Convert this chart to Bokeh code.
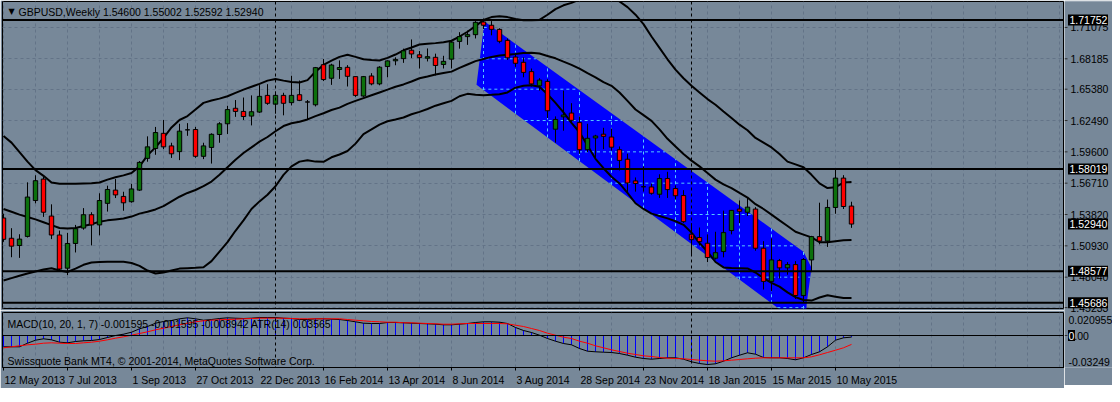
from bokeh.plotting import figure
from bokeh.models import Range1d, FixedTicker, Span, Label
from bokeh.layouts import column, row
from bokeh.core.properties import value
from bokeh.embed import file_html
from bokeh.resources import INLINE

# ---------------- data (weekly GBPUSD, week index 0 = 12 May 2013) ----------------
weeks = list(range(107))

opens = [1.5350, 1.5163, 1.5096, 1.5180, 1.5511, 1.5709, 1.5368, 1.5193, 1.4887, 1.5115,
         1.5257, 1.5380, 1.5286, 1.5485, 1.5607, 1.5549, 1.5500, 1.5607, 1.5900, 1.5991,
         1.6131, 1.6015, 1.5962, 1.6163, 1.6166, 1.5919, 1.6001, 1.6120, 1.6219, 1.6362,
         1.6333, 1.6290, 1.6327, 1.6481, 1.6400, 1.6481, 1.6414, 1.6487, 1.6420, 1.6394,
         1.6764, 1.6639, 1.6720, 1.6740, 1.6654, 1.6475, 1.6660, 1.6587, 1.6747, 1.6800,
         1.6820, 1.6898, 1.6855, 1.6824, 1.6832, 1.6766, 1.6815, 1.6979, 1.7023, 1.7041,
         1.7158, 1.7128, 1.7090, 1.6988, 1.6835, 1.6786, 1.6700, 1.6569, 1.6610, 1.6169,
         1.6283, 1.6318, 1.6230, 1.5980, 1.6088, 1.6123, 1.6097, 1.5980, 1.5892, 1.5692,
         1.5638, 1.5636, 1.5569, 1.5714, 1.5622, 1.5557, 1.5200, 1.5170, 1.5117, 1.4979,
         1.5040, 1.5234, 1.5432, 1.5403, 1.5432, 1.5071, 1.4765, 1.4957, 1.4890, 1.4920,
         1.4634, 1.4963, 1.5178, 1.5137, 1.5447, 1.5718, 1.5460]
highs = [1.5390, 1.5256, 1.5200, 1.5679, 1.5744, 1.5730, 1.5476, 1.5234, 1.5213, 1.5286,
         1.5441, 1.5403, 1.5578, 1.5648, 1.5709, 1.5592, 1.5665, 1.5875, 1.6103, 1.6190,
         1.6254, 1.6044, 1.6219, 1.6225, 1.6190, 1.6044, 1.6131, 1.6234, 1.6385, 1.6438,
         1.6461, 1.6481, 1.6575, 1.6584, 1.6516, 1.6505, 1.6662, 1.6618, 1.6438, 1.6743,
         1.6816, 1.6773, 1.6804, 1.6760, 1.6657, 1.6660, 1.6686, 1.6750, 1.6803, 1.6832,
         1.6912, 1.6997, 1.6890, 1.6914, 1.6866, 1.6846, 1.6982, 1.7064, 1.7078, 1.7166,
         1.7190, 1.7166, 1.7100, 1.7006, 1.6875, 1.6831, 1.6729, 1.6640, 1.6630, 1.6287,
         1.6525, 1.6409, 1.6287, 1.6219, 1.6117, 1.6182, 1.6176, 1.6010, 1.5943, 1.5724,
         1.5826, 1.5667, 1.5753, 1.5776, 1.5651, 1.5607, 1.5302, 1.5262, 1.5199, 1.5223,
         1.5418, 1.5424, 1.5512, 1.5540, 1.5450, 1.5136, 1.5162, 1.4972, 1.4943, 1.4952,
         1.4981, 1.5185, 1.5491, 1.5520, 1.5802, 1.5745, 1.5500]
lows = [1.5130, 1.4988, 1.4982, 1.5170, 1.5485, 1.5360, 1.5155, 1.4870, 1.4823, 1.5032,
        1.5242, 1.5097, 1.5190, 1.5409, 1.5534, 1.5417, 1.5491, 1.5600, 1.5869, 1.5933,
        1.5985, 1.5904, 1.5884, 1.6108, 1.5905, 1.5893, 1.5852, 1.6044, 1.6125, 1.6283,
        1.6254, 1.6204, 1.6320, 1.6394, 1.6312, 1.6297, 1.6388, 1.6428, 1.6263, 1.6379,
        1.6613, 1.6578, 1.6633, 1.6563, 1.6467, 1.6467, 1.6574, 1.6574, 1.6648, 1.6759,
        1.6781, 1.6825, 1.6729, 1.6794, 1.6665, 1.6729, 1.6729, 1.6912, 1.6947, 1.7006,
        1.7093, 1.7035, 1.6962, 1.6808, 1.6744, 1.6648, 1.6563, 1.6525, 1.6272, 1.6045,
        1.6155, 1.6225, 1.5942, 1.5957, 1.5898, 1.5985, 1.5972, 1.5788, 1.5584, 1.5593,
        1.5593, 1.5565, 1.5535, 1.5535, 1.5520, 1.5305, 1.5011, 1.5097, 1.4943, 1.4967,
        1.4987, 1.5199, 1.5302, 1.5369, 1.5048, 1.4690, 1.4675, 1.4792, 1.4827, 1.4603,
        1.4568, 1.4850, 1.5107, 1.5083, 1.5389, 1.5433, 1.5259]
closes = [1.5153, 1.5090, 1.5155, 1.5543, 1.5694, 1.5403, 1.5193, 1.4879, 1.5115, 1.5251,
          1.5380, 1.5286, 1.5511, 1.5613, 1.5563, 1.5490, 1.5618, 1.5863, 1.6006, 1.6138,
          1.6006, 1.5942, 1.6151, 1.6163, 1.5919, 1.6015, 1.6122, 1.6219, 1.6350, 1.6333,
          1.6286, 1.6330, 1.6472, 1.6408, 1.6481, 1.6408, 1.6481, 1.6435, 1.6420, 1.6737,
          1.6627, 1.6761, 1.6738, 1.6657, 1.6481, 1.6654, 1.6587, 1.6741, 1.6799, 1.6813,
          1.6892, 1.6863, 1.6829, 1.6838, 1.6757, 1.6795, 1.6972, 1.7023, 1.7041, 1.7155,
          1.7128, 1.7090, 1.6980, 1.6827, 1.6777, 1.6693, 1.6587, 1.6622, 1.6339, 1.6259,
          1.6300, 1.6251, 1.5980, 1.6085, 1.6106, 1.6103, 1.6003, 1.5881, 1.5673, 1.5668,
          1.5638, 1.5578, 1.5714, 1.5612, 1.5555, 1.5316, 1.5150, 1.5132, 1.4985, 1.5030,
          1.5215, 1.5420, 1.5412, 1.5450, 1.5071, 1.4765, 1.4963, 1.4890, 1.4920, 1.4635,
          1.4967, 1.5178, 1.5137, 1.5447, 1.5718, 1.5456, 1.5294]

bb_up = [1.6106, 1.6045, 1.5957, 1.5870, 1.5791, 1.5739, 1.5677, 1.5666, 1.5666, 1.5666,
         1.5669, 1.5671, 1.5677, 1.5704, 1.5726, 1.5743, 1.5765, 1.5826, 1.5928, 1.6001,
         1.6088, 1.6185, 1.6254, 1.6290, 1.6351, 1.6412, 1.6434, 1.6451, 1.6473, 1.6504,
         1.6534, 1.6561, 1.6587, 1.6617, 1.6633, 1.6617, 1.6604, 1.6600, 1.6622, 1.6700,
         1.6762, 1.6801, 1.6836, 1.6855, 1.6836, 1.6814, 1.6807, 1.6803, 1.6827, 1.6858,
         1.6897, 1.6923, 1.6950, 1.6958, 1.6963, 1.6971, 1.6985, 1.7024, 1.7068, 1.7120,
         1.7177, 1.7203, 1.7210, 1.7203, 1.7186, 1.7175, 1.7175, 1.7177, 1.7225, 1.7277,
         1.7312, 1.7334, 1.7365, 1.7400, 1.7426, 1.7426, 1.7400, 1.7347, 1.7295, 1.7225,
         1.7138, 1.7024, 1.6919, 1.6814, 1.6718, 1.6639, 1.6569, 1.6508, 1.6447, 1.6395,
         1.6333, 1.6272, 1.6211, 1.6159, 1.6088, 1.6045, 1.6001, 1.5940, 1.5870, 1.5844,
         1.5818, 1.5748, 1.5669, 1.5626, 1.5634, 1.5677, 1.5681]
bb_mid = [1.5433, 1.5407, 1.5381, 1.5359, 1.5337, 1.5311, 1.5284, 1.5258, 1.5252, 1.5258,
          1.5276, 1.5293, 1.5315, 1.5328, 1.5337, 1.5346, 1.5363, 1.5390, 1.5407, 1.5429,
          1.5459, 1.5503, 1.5546, 1.5581, 1.5608, 1.5643, 1.5686, 1.5748, 1.5818, 1.5887,
          1.5949, 1.6001, 1.6054, 1.6097, 1.6150, 1.6198, 1.6224, 1.6237, 1.6259, 1.6290,
          1.6316, 1.6346, 1.6368, 1.6403, 1.6430, 1.6456, 1.6482, 1.6508, 1.6534, 1.6561,
          1.6582, 1.6609, 1.6639, 1.6656, 1.6674, 1.6687, 1.6700, 1.6735, 1.6766, 1.6797,
          1.6817, 1.6836, 1.6849, 1.6855, 1.6862, 1.6871, 1.6875, 1.6867, 1.6845, 1.6823,
          1.6792, 1.6762, 1.6727, 1.6686, 1.6648, 1.6604, 1.6569, 1.6508, 1.6430, 1.6351,
          1.6299, 1.6246, 1.6167, 1.6080, 1.6010, 1.5940, 1.5879, 1.5826, 1.5765, 1.5704,
          1.5660, 1.5626, 1.5581, 1.5538, 1.5477, 1.5433, 1.5381, 1.5328, 1.5276, 1.5223,
          1.5197, 1.5171, 1.5127, 1.5127, 1.5136, 1.5145, 1.5148]
bb_low = [1.4773, 1.4795, 1.4817, 1.4838, 1.4856, 1.4874, 1.4887, 1.4865, 1.4852, 1.4883,
          1.4918, 1.4939, 1.4944, 1.4946, 1.4946, 1.4946, 1.4935, 1.4908, 1.4865, 1.4838,
          1.4847, 1.4865, 1.4883, 1.4887, 1.4891, 1.4896, 1.4952, 1.5040, 1.5127, 1.5232,
          1.5328, 1.5433, 1.5503, 1.5564, 1.5643, 1.5748, 1.5826, 1.5870, 1.5883, 1.5870,
          1.5868, 1.5910, 1.5936, 1.5968, 1.6036, 1.6124, 1.6167, 1.6211, 1.6242, 1.6259,
          1.6277, 1.6307, 1.6329, 1.6355, 1.6386, 1.6408, 1.6430, 1.6473, 1.6495, 1.6486,
          1.6482, 1.6486, 1.6492, 1.6508, 1.6552, 1.6569, 1.6575, 1.6561, 1.6491, 1.6412,
          1.6325, 1.6228, 1.6141, 1.6019, 1.5896, 1.5809, 1.5730, 1.5669, 1.5581, 1.5486,
          1.5433, 1.5390, 1.5368, 1.5346, 1.5320, 1.5287, 1.5215, 1.5119, 1.5040, 1.4944,
          1.4894, 1.4889, 1.4887, 1.4885, 1.4847, 1.4795, 1.4752, 1.4717, 1.4664, 1.4620,
          1.4594, 1.4588, 1.4616, 1.4637, 1.4624, 1.4611, 1.4611]

macd = [-0.0113, -0.0113, -0.0113, -0.0077, -0.0047, -0.0033, -0.0043, -0.0067, -0.0073, -0.0060,
        -0.0053, -0.0050, -0.0040, -0.0020, 0.0000, 0.0013, 0.0033, 0.0067, 0.0090, 0.0123,
        0.0140, 0.0150, 0.0167, 0.0177, 0.0167, 0.0153, 0.0160, 0.0170, 0.0177, 0.0173,
        0.0170, 0.0173, 0.0180, 0.0180, 0.0180, 0.0173, 0.0170, 0.0160, 0.0160, 0.0167,
        0.0167, 0.0163, 0.0160, 0.0150, 0.0137, 0.0123, 0.0120, 0.0120, 0.0130, 0.0130,
        0.0127, 0.0123, 0.0120, 0.0117, 0.0113, 0.0107, 0.0107, 0.0113, 0.0120, 0.0130,
        0.0137, 0.0137, 0.0133, 0.0120, 0.0080, 0.0050, 0.0030, 0.0003, -0.0030, -0.0057,
        -0.0080, -0.0093, -0.0130, -0.0157, -0.0163, -0.0167, -0.0170, -0.0180, -0.0197, -0.0217,
        -0.0230, -0.0237, -0.0230, -0.0223, -0.0223, -0.0237, -0.0263, -0.0280, -0.0290, -0.0283,
        -0.0257, -0.0223, -0.0197, -0.0173, -0.0187, -0.0220, -0.0223, -0.0223, -0.0230, -0.0243,
        -0.0223, -0.0190, -0.0163, -0.0113, -0.0047, -0.0023, -0.0016]
signal = [-0.0123, -0.0113, -0.0103, -0.0093, -0.0087, -0.0077, -0.0073, -0.0077, -0.0080, -0.0080,
          -0.0073, -0.0067, -0.0057, -0.0043, -0.0027, -0.0013, 0.0003, 0.0020, 0.0037, 0.0057,
          0.0073, 0.0090, 0.0107, 0.0123, 0.0137, 0.0147, 0.0153, 0.0157, 0.0160, 0.0163,
          0.0167, 0.0170, 0.0173, 0.0173, 0.0173, 0.0173, 0.0170, 0.0167, 0.0167, 0.0167,
          0.0167, 0.0167, 0.0167, 0.0160, 0.0153, 0.0147, 0.0140, 0.0137, 0.0133, 0.0133,
          0.0127, 0.0127, 0.0123, 0.0120, 0.0117, 0.0113, 0.0113, 0.0117, 0.0120, 0.0120,
          0.0120, 0.0120, 0.0120, 0.0117, 0.0103, 0.0090, 0.0070, 0.0050, 0.0023, 0.0003,
          -0.0017, -0.0030, -0.0057, -0.0077, -0.0103, -0.0123, -0.0143, -0.0160, -0.0177, -0.0190,
          -0.0203, -0.0210, -0.0220, -0.0227, -0.0230, -0.0233, -0.0240, -0.0247, -0.0253, -0.0257,
          -0.0253, -0.0247, -0.0240, -0.0233, -0.0227, -0.0223, -0.0223, -0.0223, -0.0223, -0.0223,
          -0.0223, -0.0213, -0.0193, -0.0170, -0.0147, -0.0123, -0.0089]

# standard deviation channel outline (week index, price)
chan_t = [60.125, 100.0, 101.0, 100.4, 100.25, 59.125]
chan_p = [1.7163, 1.5039, 1.4891, 1.4559, 1.4331, 1.6578]

date_labels = ["12 May 2013", "7 Jul 2013", "1 Sep 2013", "27 Oct 2013", "22 Dec 2013",
               "16 Feb 2014", "13 Apr 2014", "8 Jun 2014", "3 Aug 2014", "28 Sep 2014",
               "23 Nov 2014", "18 Jan 2015", "15 Mar 2015", "10 May 2015"]
date_weeks = [0, 8, 16, 24, 32, 40, 48, 56, 64, 72, 80, 88, 96, 104]
separator_weeks = [34, 86]

price_ticks = [1.71075, 1.68185, 1.65380, 1.62490, 1.59600, 1.56710,
               1.53820, 1.50930, 1.48040, 1.45233]
level_prices = [1.71752, 1.58019, 1.48577, 1.45686]
last_close = 1.52940
header = "GBPUSD,Weekly  1.54600 1.55002 1.52592 1.52940"
macd_text = "MACD(10, 20, 1, 7) -0.001595 -0.001595 -0.008942  ATR(14) 0.03565"
copyright_text = "Swissquote Bank MT4, \u00a9 2001-2014, MetaQuotes Software Corp."
macd_scale_vals = [0.0153, 0.0, -0.0263]
macd_scale_text = ["0.020955", "0.00", "-0.03249"]

# ---------------- style ----------------
BG = "#778899"
GRID = "#637387"
GRID_ON_BLUE = "#55c8ff"
BULL = "#0c700c"
BEAR = "#ff0000"
FONT = "Liberation Sans"
FS = "10.5px"

FW, FH1, FH2, RW = 1062, 307, 55, 48
TOP1, BOT1, TOP2, BOT2 = 1, 2, 2, 18
X0 = -0.125
X1 = X0 + FW / 8.0
Y0, Y1 = 1.4515, 1.7347
M0, M1 = -0.032, 0.023
grid_weeks = list(range(0, 133, 4))

common = dict(output_backend="svg", toolbar_location=None, tools="", title=None,
              background_fill_color=BG, border_fill_color=BG)

# ---------------- main price panel ----------------
p1 = figure(frame_width=FW, frame_height=FH1, x_range=Range1d(X0, X1), y_range=Range1d(Y0, Y1),
            x_axis_location=None, y_axis_location=None,
            min_border_left=2, min_border_right=0, min_border_top=TOP1, min_border_bottom=BOT1,
            outline_line_color="black", outline_line_width=1, **common)

p1.ygrid.ticker = FixedTicker(ticks=price_ticks)
p1.ygrid.grid_line_color = GRID
p1.ygrid.grid_line_dash = "3 3"
p1.xgrid.ticker = FixedTicker(ticks=grid_weeks)
p1.xgrid.grid_line_color = GRID
p1.xgrid.grid_line_dash = "3 3"

p1.patch(chan_t, chan_p, fill_color="#0000ff", line_color=None)

edges = list(zip(zip(chan_t, chan_p), zip(chan_t[1:] + chan_t[:1], chan_p[1:] + chan_p[:1])))
def cut(c, vertical):
    hits = []
    for (ax, ay), (bx, by) in edges:
        a, b = (ax, bx) if vertical else (ay, by)
        if a != b and min(a, b) <= c <= max(a, b):
            f = (c - a) / (b - a)
            hits.append(ay + f * (by - ay) if vertical else ax + f * (bx - ax))
    return (min(hits), max(hits)) if len(hits) >= 2 else None
gx0, gy0, gx1, gy1 = [], [], [], []
for w in grid_weeks:
    s = cut(w, True)
    if s:
        gx0.append(w); gx1.append(w); gy0.append(s[0]); gy1.append(s[1])
for pt in price_ticks:
    s = cut(pt, False)
    if s:
        gx0.append(s[0]); gx1.append(s[1]); gy0.append(pt); gy1.append(pt)
p1.segment(x0=gx0, y0=gy0, x1=gx1, y1=gy1, line_color=GRID_ON_BLUE, line_width=1,
           line_dash="3 3")

for band in (bb_up, bb_mid, bb_low):
    p1.line(weeks, band, line_color="black", line_width=2)

tops = [max(o, c) for o, c in zip(opens, closes)]
bots = [min(o, c) for o, c in zip(opens, closes)]
cols = [BULL if c > o else BEAR for o, c in zip(opens, closes)]
p1.segment(x0=weeks, y0=lows, x1=weeks, y1=highs, line_color="black", line_width=1)
p1.vbar(x=weeks, width=0.55, top=tops, bottom=bots, fill_color=cols,
        line_color="black", line_width=1)

for lv in level_prices:
    p1.add_layout(Span(location=lv, dimension="width", line_color="black", line_width=2))
for sw in separator_weeks:
    p1.add_layout(Span(location=sw, dimension="height", line_color="black",
                       line_width=1, line_dash="3 3"))

p1.add_layout(Label(x=X0, y=Y1, x_offset=6, y_offset=-10, text="\u25bc",
                    text_font="DejaVu Sans", text_font_size="8px", text_color="black",
                    text_baseline="middle"))
p1.add_layout(Label(x=X0, y=Y1, x_offset=16, y_offset=-10, text=header,
                    text_font=FONT, text_font_size=FS, text_color="black",
                    text_baseline="middle"))

# ---------------- MACD panel ----------------
p2 = figure(frame_width=FW, frame_height=FH2, x_range=p1.x_range, y_range=Range1d(M0, M1),
            x_axis_location="below", y_axis_location=None,
            min_border_left=2, min_border_right=0, min_border_top=TOP2, min_border_bottom=BOT2,
            outline_line_color="black", outline_line_width=1, **common)
p2.ygrid.visible = False
p2.xgrid.ticker = FixedTicker(ticks=grid_weeks)
p2.xgrid.grid_line_color = GRID
p2.xgrid.grid_line_dash = "3 3"

cw = {" ": 0.278, "M": 0.833, "J": 0.5, "S": 0.667, "O": 0.778, "D": 0.722, "F": 0.611,
      "A": 0.667, "N": 0.722, "a": 0.556, "y": 0.5, "u": 0.556, "l": 0.222, "e": 0.556,
      "p": 0.556, "c": 0.5, "t": 0.278, "b": 0.556, "r": 0.333, "o": 0.556, "v": 0.5,
      "n": 0.556, "g": 0.556}
def half_width_weeks(s):
    w = sum(cw.get(ch, 0.556) for ch in s) * 10.5
    return (w / 2.0 + 1.0) / 8.0
shifted = [w + half_width_weeks(s) for w, s in zip(date_weeks, date_labels)]

xa = p2.xaxis[0]
xa.ticker = FixedTicker(ticks=shifted, minor_ticks=date_weeks)
xa.major_label_overrides = {t: s for t, s in zip(shifted, date_labels)}
xa.axis_line_color = "black"
xa.major_tick_out = 0
xa.major_tick_in = 0
xa.minor_tick_out = 3
xa.minor_tick_in = 0
xa.minor_tick_line_color = "black"
xa.major_label_standoff = 3
xa.major_label_text_font = FONT
xa.major_label_text_font_size = FS
xa.major_label_text_color = "black"

p2.segment(x0=weeks, y0=[0.0] * len(weeks), x1=weeks, y1=macd, line_color="#0000ff", line_width=1)
p2.add_layout(Span(location=0.0, dimension="width", line_color="black", line_width=1))
p2.line(weeks, macd, line_color="black", line_width=1)
p2.line(weeks, signal, line_color="#ff0000", line_width=1)
for sw in separator_weeks:
    p2.add_layout(Span(location=sw, dimension="height", line_color="black",
                       line_width=1, line_dash="3 3"))

p2.add_layout(Label(x=X0, y=M1, x_offset=5, y_offset=-11, text=macd_text,
                    text_font=FONT, text_font_size=FS, text_color="black",
                    text_baseline="middle"))
p2.add_layout(Label(x=X0, y=M1, x_offset=5, y_offset=-48, text=copyright_text,
                    text_font=FONT, text_font_size=FS, text_color="black",
                    text_baseline="middle"))

# ---------------- right-hand scale column (prices above, MACD below) ----------------
RH = FH1 + BOT1 + TOP2 + FH2
dy = (Y1 - Y0) / FH1
dm = (M1 - M0) / FH2
pr = figure(frame_width=RW, frame_height=RH, x_range=Range1d(0, RW),
            y_range=Range1d(Y1 - RH * dy, Y1),
            x_axis_location=None, y_axis_location=None,
            min_border_left=0, min_border_right=0, min_border_top=TOP1, min_border_bottom=BOT2,
            outline_line_color=None, **common)
pr.extra_y_ranges = {"macd": Range1d(M0, M0 + RH * dm)}
pr.xgrid.visible = False
pr.ygrid.visible = False

pr.segment(x0=[0] * len(price_ticks), y0=price_ticks, x1=[3] * len(price_ticks), y1=price_ticks,
           line_color="#303030", line_width=1)
pr.text(x=[6] * len(price_ticks), y=price_ticks, text=["%.5f" % v for v in price_ticks],
        text_font=value(FONT), text_font_size=value(FS), text_color="black",
        text_align="left", text_baseline="middle")
marks = level_prices + [last_close]
pr.rect(x=[23.5] * len(marks), y=marks, width=40, height=11, height_units="screen",
        fill_color="black", line_color=None)
pr.text(x=[5] * len(marks), y=marks, text=["%.5f" % v for v in marks],
        text_font=value(FONT), text_font_size=value(FS), text_color="white",
        text_align="left", text_baseline="middle")

pr.segment(x0=[0], y0=[0.0], x1=[3], y1=[0.0], line_color="#303030", line_width=1,
           y_range_name="macd")
pr.text(x=[4] * 3, y=macd_scale_vals, text=macd_scale_text,
        text_font=value(FONT), text_font_size=value(FS), text_color="black",
        text_align="left", text_baseline="middle", y_range_name="macd")
pr.rect(x=[7.0], y=[0.0], width=7.0, height=11, height_units="screen",
        fill_color="black", line_color=None, y_range_name="macd")
pr.text(x=[4], y=[0.0], text=["0"],
        text_font=value(FONT), text_font_size=value(FS), text_color="white",
        text_align="left", text_baseline="middle", y_range_name="macd")

layout = row(column(p1, p2, spacing=0), pr, spacing=0)
open("out.html", "w").write(file_html(layout, INLINE))
